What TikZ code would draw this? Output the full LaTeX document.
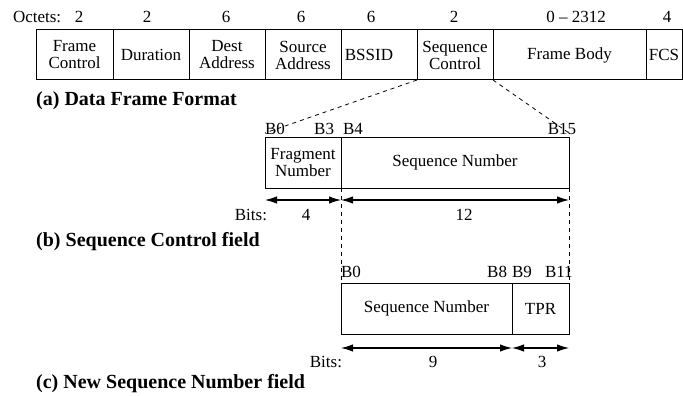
\documentclass[tikz,border=0pt]{standalone}
\usepackage{fontspec}
\setmainfont{Liberation Serif}
\usetikzlibrary{arrows.meta}
\begin{document}
\begin{tikzpicture}[x=1pt,y=-1pt,
  fld/.style={draw, line width=1pt, inner sep=0pt, outer sep=0pt, minimum height=51pt, anchor=north west, align=center, font=\fontsize{17}{17}\selectfont},
  txt/.style={inner sep=0pt, outer sep=0pt, font=\fontsize{17}{17}\selectfont},
  captxt/.style={inner sep=0pt, anchor=base west, font=\fontsize{20}{20}\selectfont\bfseries},
  conn/.style={line width=0.8pt, dash pattern=on 4pt off 4pt},
  dimarrow/.style={line width=1.2pt, {Latex[length=12pt,width=7.5pt]}-{Latex[length=12pt,width=7.5pt]}}
]
\useasboundingbox (0,0) rectangle (683,396);
% (a) data frame
\node[txt, anchor=base west] (oct) at (13,23) {Octets:};
\node[txt, anchor=base] (o1) at (79,23) {2};
\node[txt, anchor=base] (o2) at (147,23) {2};
\node[txt, anchor=base] (o3) at (226,23) {6};
\node[txt, anchor=base] (o4) at (301,23) {6};
\node[txt, anchor=base] (o5) at (371,23) {6};
\node[txt, anchor=base] (o6) at (454,23) {2};
\node[txt, anchor=base] (o7) at (576,23) {0 -- 2312};
\node[txt, anchor=base] (o8) at (667,23) {4};
\node[fld, minimum height=50pt, minimum width=77pt] (fc) at (36,30) {Frame\\Control};
\node[fld, minimum height=50pt, minimum width=76pt] (dur) at (113,30) {Duration};
\node[fld, minimum height=50pt, minimum width=76pt] (dest) at (189,30) {Dest\\Address};
\node[fld, minimum height=50pt, minimum width=76pt] (src) at (265,30) {Source\\Address};
\node[fld, minimum height=50pt, minimum width=76pt] (bssid) at (341,30) {BSSID\hspace*{20pt}};
\node[fld, minimum height=50pt, minimum width=76pt] (seqc) at (417,30) {Sequence\\Control};
\node[fld, minimum height=50pt, minimum width=153pt] (body) at (493,30) {Frame Body};
\node[fld, minimum height=50pt, minimum width=36pt] (fcs) at (646,30) {FCS};
\node[captxt] (capa) at (36,105) {(a) Data Frame Format};
% (b) sequence control
\coordinate (dl) at (265,133);
\coordinate (dr) at (569,133);
\draw[conn] (seqc.south west) -- (dl);
\draw[conn] (seqc.south east) -- (dr);
\node[txt, anchor=base west] (b0) at (265,134) {B0};
\node[txt, anchor=base east] (b3) at (334,134) {B3};
\node[txt, anchor=base west] (b4) at (343,134) {B4};
\node[txt, anchor=base] (b15) at (562,134) {B15};
\node[fld, minimum width=76pt] (frag) at (265,137) {Fragment\\Number};
\node[fld, minimum width=228pt] (seqn) at (341,137) {Sequence Number};
\coordinate (ba) at (265,200);
\coordinate (bb) at (341,200);
\coordinate (bc) at (569,200);
\draw[dimarrow] (ba) -- (bb);
\draw[dimarrow] (bb) -- (bc);
\node[txt, anchor=base east] (bitsb) at (267,220) {Bits:};
\node[txt, anchor=base] (n4) at (306,220) {4};
\node[txt, anchor=base] (n12) at (464,220) {12};
\node[captxt] (capb) at (36,246.5) {(b) Sequence Control field};
% (c) new sequence number
\node[fld, minimum width=171pt] (nseq) at (341,283) {Sequence Number};
\node[fld, minimum width=57pt] (tpr) at (512,283) {TPR};
\draw[conn] (frag.south east) -- (nseq.north west);
\draw[conn] (seqn.south east) -- (tpr.north east);
\node[txt, anchor=base west] (c0) at (341,277) {B0};
\node[txt, anchor=base east] (c8) at (507,277) {B8};
\node[txt, anchor=base west] (c9) at (512,277) {B9};
\node[txt, anchor=base west] (c11) at (545,277) {B11};
\coordinate (ca) at (341,348);
\coordinate (cb) at (512,348);
\coordinate (cc) at (569,348);
\draw[dimarrow] (ca) -- (cb);
\draw[dimarrow] (cb) -- (cc);
\node[txt, anchor=base east] (bitsc) at (342,367) {Bits:};
\node[txt, anchor=base] (n9) at (433,367) {9};
\node[txt, anchor=base] (n3) at (542,367) {3};
\node[captxt] (capc) at (36,388) {(c) New Sequence Number field};
\end{tikzpicture}
\end{document}
